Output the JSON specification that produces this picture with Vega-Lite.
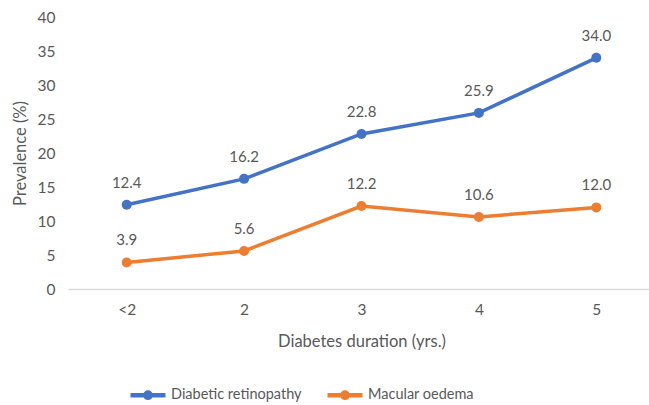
{
  "$schema": "https://vega.github.io/schema/vega-lite/v6.json",
  "width": 587,
  "height": 272,
  "autosize": {"type": "none"},
  "padding": {"left": 68, "top": 17, "right": 0, "bottom": 116},
  "background": "white",
  "config": {
    "view": {"stroke": null},
    "font": "Lato",
    "axis": {"labelFont": "Lato", "titleFont": "Lato", "labelColor": "#595959", "titleColor": "#595959", "titleFontWeight": "normal", "grid": false, "ticks": false}
  },
  "data": {
    "values": [
      {"duration": "<2", "series": "Diabetic retinopathy", "value": 12.4},
      {"duration": "2", "series": "Diabetic retinopathy", "value": 16.2},
      {"duration": "3", "series": "Diabetic retinopathy", "value": 22.8},
      {"duration": "4", "series": "Diabetic retinopathy", "value": 25.9},
      {"duration": "5", "series": "Diabetic retinopathy", "value": 34.0},
      {"duration": "<2", "series": "Macular oedema", "value": 3.9},
      {"duration": "2", "series": "Macular oedema", "value": 5.6},
      {"duration": "3", "series": "Macular oedema", "value": 12.2},
      {"duration": "4", "series": "Macular oedema", "value": 10.6},
      {"duration": "5", "series": "Macular oedema", "value": 12.0}
    ]
  },
  "encoding": {
    "x": {
      "field": "duration", "type": "ordinal", "sort": null,
      "scale": {"type": "point", "padding": 0.5},
      "axis": {"title": "Diabetes duration (yrs.)", "labelAngle": 0, "labelFontSize": 15.5, "titleFontSize": 16.5, "labelPadding": 13, "titlePadding": 16, "domainColor": "#d9d9d9", "domainWidth": 1.5}
    },
    "y": {
      "field": "value", "type": "quantitative",
      "scale": {"domain": [0, 40]},
      "axis": {"title": "Prevalence (%)", "values": [0,5,10,15,20,25,30,35,40], "domain": false, "labelFontSize": 15.5, "titleFontSize": 16.5, "labelPadding": 13, "titlePadding": 9}
    },
    "color": {
      "field": "series", "type": "nominal",
      "scale": {"domain": ["Diabetic retinopathy", "Macular oedema"], "range": ["#4472C4", "#ED7D31"]},
      "legend": {
        "title": null, "orient": "none", "direction": "horizontal",
        "legendX": 60, "legendY": 358,
        "symbolType": "M -1 0 L 1 0 M 0.15 0 A 0.15 0.15 0 1 1 -0.15 0 A 0.15 0.15 0 1 1 0.15 0",
        "symbolSize": 1225, "symbolStrokeWidth": 4.5, "symbolFillColor": "transparent",
        "labelFont": "Lato", "labelFontSize": 14.5, "labelColor": "#595959", "labelOffset": 3, "columnPadding": 16
      }
    }
  },
  "layer": [
    {"mark": {"type": "line", "strokeWidth": 3.5}},
    {"mark": {"type": "point", "filled": true, "size": 100, "opacity": 1}},
    {
      "mark": {"type": "text", "dy": -22, "fontSize": 15, "color": "#595959", "font": "Lato"},
      "encoding": {
        "text": {"field": "value", "type": "quantitative", "format": ".1f"},
        "color": {"value": "#595959"}
      }
    }
  ]
}
